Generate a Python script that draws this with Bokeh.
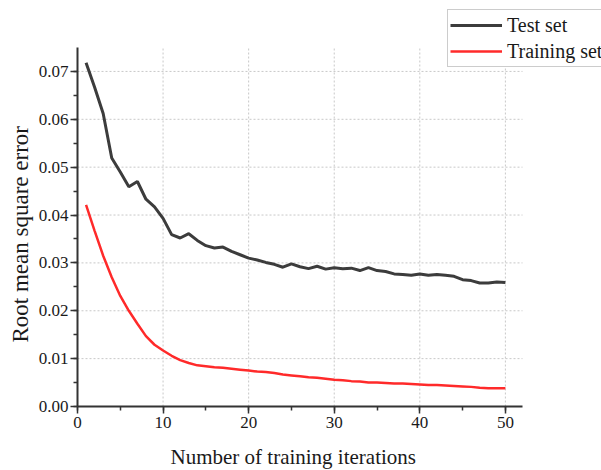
from bokeh.plotting import figure
from bokeh.models import (Legend, LegendItem, SingleIntervalTicker, Title,
                          NumeralTickFormatter, Range1d, ColumnDataSource)
from bokeh.embed import file_html
from bokeh.resources import INLINE

iterations = list(range(1, 51))
test_rmse = [0.0718, 0.0667, 0.0612, 0.0519, 0.0490, 0.0459, 0.0470, 0.0433, 0.0417, 0.0393,
             0.0359, 0.0352, 0.0361, 0.0347, 0.0336, 0.0331, 0.0333, 0.0324, 0.0317, 0.0310,
             0.0306, 0.0301, 0.0297, 0.0291, 0.0298, 0.0292, 0.0288, 0.0293, 0.0287, 0.0290,
             0.0288, 0.0289, 0.0284, 0.0290, 0.0284, 0.0282, 0.0277, 0.0276, 0.0274, 0.0277,
             0.0274, 0.0276, 0.0274, 0.0272, 0.0265, 0.0263, 0.0258, 0.0258, 0.0260, 0.0259]
train_rmse = [0.0421, 0.0367, 0.0315, 0.0270, 0.0231, 0.0200, 0.0173, 0.0147, 0.0129, 0.0117,
              0.0106, 0.0097, 0.0091, 0.0086, 0.0084, 0.0082, 0.0081, 0.0079, 0.0077, 0.0075,
              0.0073, 0.0072, 0.0070, 0.0067, 0.0065, 0.0063, 0.0061, 0.0060, 0.0058, 0.0056,
              0.0055, 0.0053, 0.0052, 0.0050, 0.0050, 0.0049, 0.0048, 0.0048, 0.0047, 0.0046,
              0.0045, 0.0045, 0.0044, 0.0043, 0.0042, 0.0041, 0.0039, 0.0038, 0.0038, 0.0038]
x_grid_ticks = [10, 20, 30, 40, 50]
y_grid_ticks = [0.01, 0.02, 0.03, 0.04, 0.05, 0.06, 0.07]
x_bounds = (0, 52)
y_bounds = (0, 0.075)
series_labels = ["Test set", "Training set"]
x_label = "Number of training iterations"
y_label = "Root mean square error"

FONT = "Liberation Serif"
AXIS_COLOR = "#333333"
TEXT_COLOR = "#1a1a1a"

W, H = 601, 470
LEFT, BOTTOM = 77, 64
AXIS_TOP_PX, AXIS_RIGHT_PX = 47, 522  # where the drawn axes end on the canvas

# the frame fills the canvas to the top/right so the legend is not clipped;
# ranges are extended so the visible axes cover exactly the bounds
frame_w = W - LEFT
frame_h = H - BOTTOM
x_end = x_bounds[1] * frame_w / (AXIS_RIGHT_PX - LEFT)
y_end = y_bounds[1] * frame_h / (frame_h - AXIS_TOP_PX)

src = ColumnDataSource(dict(x=iterations, test=test_rmse, train=train_rmse))

p = figure(width=W, height=H, output_backend="svg", toolbar_location=None,
           x_range=Range1d(0, x_end), y_range=Range1d(0, y_end),
           min_border_left=LEFT, min_border_right=0, min_border_top=0,
           min_border_bottom=BOTTOM, outline_line_color=None,
           background_fill_color="white", border_fill_color="white")
p.xgrid.visible = False
p.ygrid.visible = False

grid_kw = dict(line_color="#c8c8c8", line_width=1, line_dash="2 2")
p.segment(x0=x_grid_ticks, y0=[y_bounds[0]] * len(x_grid_ticks),
          x1=x_grid_ticks, y1=[y_bounds[1]] * len(x_grid_ticks), **grid_kw)
p.segment(x0=[x_bounds[0]] * len(y_grid_ticks), y0=y_grid_ticks,
          x1=[x_bounds[1]] * len(y_grid_ticks), y1=y_grid_ticks, **grid_kw)

r_test = p.line("x", "test", source=src, line_color="#3c3c3c", line_width=3)
r_train = p.line("x", "train", source=src, line_color="#ff2a2a", line_width=2.5)

p.xaxis.ticker = SingleIntervalTicker(interval=10, num_minor_ticks=2)
p.yaxis.ticker = SingleIntervalTicker(interval=0.01, num_minor_ticks=2)
p.yaxis.formatter = NumeralTickFormatter(format="0.00")
p.xaxis.bounds = x_bounds
p.yaxis.bounds = y_bounds

for ax in (p.xaxis, p.yaxis):
    ax.axis_line_color = AXIS_COLOR
    ax.axis_line_width = 2
    ax.major_tick_line_color = AXIS_COLOR
    ax.major_tick_line_width = 1.5
    ax.minor_tick_line_color = AXIS_COLOR
    ax.minor_tick_line_width = 1.5
    ax.major_tick_out = 7
    ax.major_tick_in = 0
    ax.minor_tick_out = 4
    ax.minor_tick_in = 0
    ax.major_label_text_font = FONT
    ax.major_label_text_font_size = "17px"
    ax.major_label_text_color = TEXT_COLOR
p.xaxis.major_label_standoff = 3
p.yaxis.major_label_standoff = 2
# a blank spacer label only widens the x-axis panel so the title below sits lower
p.xaxis.axis_label = " "
p.xaxis.axis_label_text_font_size = "1px"
p.xaxis.axis_label_standoff = 6

# axis titles, anchored so that they sit centred on the drawn (bounded) axes
title_kw = dict(text_font=FONT, text_font_style="normal", text_color=TEXT_COLOR)
p.add_layout(Title(text=x_label, align="left", offset=93, vertical_align="bottom",
                   standoff=4, text_font_size="21px", **title_kw), "below")
p.add_layout(Title(text=y_label, align="left", offset=64, vertical_align="bottom",
                   standoff=5, text_font_size="23px", **title_kw), "left")

legend = Legend(items=[LegendItem(label=series_labels[0], renderers=[r_test]),
                       LegendItem(label=series_labels[1], renderers=[r_train])],
                location=(370, 339), orientation="vertical",
                label_text_font=FONT, label_text_font_size="20px",
                label_text_color=TEXT_COLOR,
                glyph_width=52, glyph_height=26, label_height=26,
                spacing=0, padding=2, margin=0, label_standoff=5,
                border_line_color="#9a9a9a", border_line_width=1.5,
                background_fill_color="white", background_fill_alpha=1)
p.add_layout(legend)

open("out.html", "w").write(file_html(p, INLINE))
